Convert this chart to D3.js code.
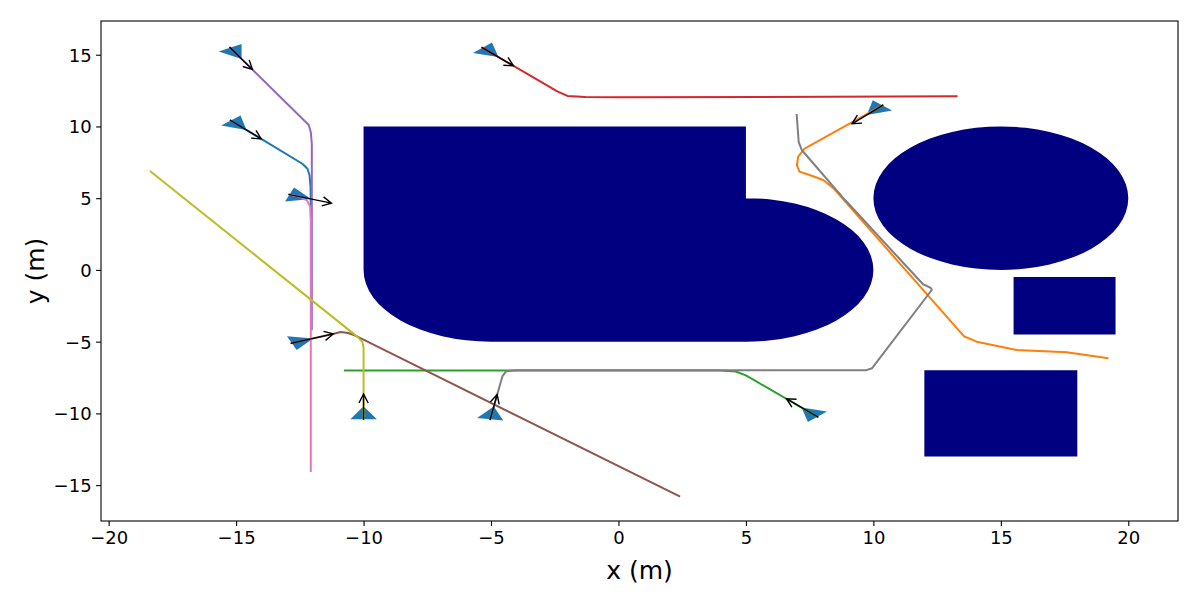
<!DOCTYPE html>
<html>
<head>
<meta charset="utf-8">
<script src="https://cdn.jsdelivr.net/npm/d3@7"></script>
<style>
	html, body { margin: 0; padding: 0; background: #fff; }
	svg { display: block; font-family: 'DejaVu Sans', sans-serif; }
	.tick text { font-size: 18px; fill: #000; font-family: 'DejaVu Sans', sans-serif; }
	.axislabel { font-size: 25px; fill: #000; }
</style>
</head>
<body>
<svg id="chart" width="1200" height="600"></svg>
<script>
// axis limits and ticks
const xLimits = [-20.3, 21.95]
const yLimits = [-17.5, 17.35]
const xTicks = [-20, -15, -10, -5, 0, 5, 10, 15, 20]
const yTicks = [-15, -10, -5, 0, 5, 10, 15]

// obstacles, metres: rects are [x0, x1, y0, y1], discs are [cx, cy, r]
const obstacleRects = [[-10, 5, 0, 10], [-5, 5, -5, 5], [15.5, 19.5, -4.5, -0.5], [12, 18, -13, -7]]
const obstacleDiscs = [[-5, 0, 5], [5, 0, 5], [15, 5, 5]]

// one entry per agent, in tab10 order
const agentColors = ['#1f77b4', '#ff7f0e', '#2ca02c', '#d62728', '#9467bd', '#8c564b', '#e377c2', '#7f7f7f', '#bcbd22']
const startHeadings = [-47, -133, 134, -46, -60, 21.5, -20, 81, 90] // degrees

const trajBlue = [[-15.24, 10.45], [-12.4, 7.4], [-12.2, 7.05], [-12.12, 6.6], [-12.08, 5.8], [-12.06, 3.0]]
const trajOrange = [[10.39, 11.5], [7.3, 8.45], [7.05, 7.9], [7.0, 7.3], [7.1, 6.85], [7.5, 6.62], [8.03, 6.27],
	[8.43, 5.7], [13.55, -4.62], [14.05, -5.0], [15.62, -5.58], [17.58, -5.74], [19.22, -6.16]]
const trajGreen = [[7.84, -10.27], [5.0, -7.35], [4.6, -7.08], [4.0, -7.01], [-10.77, -7.01]]
const trajRed = [[-5.37, 15.52], [-2.4, 12.45], [-2.0, 12.13], [-1.3, 12.05], [0, 12.03], [13.3, 12.1]]
const trajPurple = [[-15.26, 15.53], [-12.35, 10.45], [-12.15, 10.1], [-12.07, 9.6], [-12.03, 8.8], [-12.03, -4.2]]
const trajBrown = [[-12.86, -5.12], [-11.2, -4.47], [-10.9, -4.33], [-10.6, -4.4], [-10.3, -4.6], [2.42, -15.8]]
const trajPink = [[-12.95, 5.27], [-12.5, 5.1], [-12.22, 4.85], [-12.09, 4.4], [-12.07, 3.5], [-12.07, -14.08]]
const trajGray = [[-5.04, -10.46], [-4.55, -7.4], [-4.4, -7.06], [-4.0, -7.0], [9.7, -7.0], [9.95, -6.85],
	[12.29, -1.4], [12.25, -1.25], [11.95, -1.0], [8.89, 4.87], [7.19, 8.36], [7.07, 8.9], [6.99, 10.87]]
const trajOlive = [[-10.0, -10.45], [-10.0, -5.4], [-10.05, -5.0], [-10.25, -4.65], [-18.38, 6.9]]

const trajectories = [trajBlue, trajOrange, trajGreen, trajRed, trajPurple, trajBrown, trajPink, trajGray, trajOlive]

const arrowLength = 1.8   // m
const bodyRadius = 0.6    // m, equilateral triangle
const bodyOffset = 0.35   // m ahead of the start point

const plot = {left: 101, right: 1178, top: 21, bottom: 521}
const svg = d3.select('#chart')

const x = d3.scaleLinear().domain(xLimits).range([plot.left, plot.right])
const y = d3.scaleLinear().domain(yLimits).range([plot.bottom, plot.top])
const fmt = d => (d < 0 ? '\u2212' : '') + Math.abs(d)

svg.append('defs').append('clipPath').attr('id', 'plotclip')
	.append('rect')
	.attr('x', plot.left).attr('y', plot.top)
	.attr('width', plot.right - plot.left).attr('height', plot.bottom - plot.top)

const area = svg.append('g').attr('clip-path', 'url(#plotclip)')

// obstacles as one path so the union has no seams
let obstaclePath = ''
obstacleRects.forEach(([x0, x1, y0, y1]) => {
	obstaclePath += `M${x(x0)},${y(y1)}H${x(x1)}V${y(y0)}H${x(x0)}Z`
})
obstacleDiscs.forEach(([cx, cy, r]) => {
	const rx = x(cx + r) - x(cx), ry = y(cy) - y(cy + r)
	obstaclePath += `M${x(cx) - rx},${y(cy)}A${rx},${ry} 0 1 1 ${x(cx) + rx},${y(cy)}A${rx},${ry} 0 1 1 ${x(cx) - rx},${y(cy)}Z`
})
area.append('path').attr('d', obstaclePath).attr('fill', '#000080')

// agent bodies: triangle in data units with one corner along the heading
const rad = d => d * Math.PI / 180
area.selectAll('polygon.body').data(trajectories).enter()
	.append('polygon')
	.attr('class', 'body')
	.attr('fill', '#1f77b4')
	.attr('points', (t, i) => {
		const h = rad(startHeadings[i])
		const cx = t[0][0] + bodyOffset * Math.cos(h)
		const cy = t[0][1] + bodyOffset * Math.sin(h)
		return [0, 120, 240].map(a => {
			const k = h + rad(a)
			return [x(cx + bodyRadius * Math.cos(k)), y(cy + bodyRadius * Math.sin(k))].join(',')
		}).join(' ')
	})

const line = d3.line().x(d => x(d[0])).y(d => y(d[1]))
area.selectAll('path.traj').data(trajectories).enter()
	.append('path')
	.attr('class', 'traj')
	.attr('d', line)
	.attr('fill', 'none')
	.attr('stroke', (t, i) => agentColors[i])
	.attr('stroke-width', 2)
	.attr('stroke-linejoin', 'round')

// heading arrows, open head
const arrows = area.selectAll('g.arrow').data(trajectories).enter().append('g').attr('class', 'arrow')
arrows.append('path')
	.attr('fill', 'none')
	.attr('stroke', '#000')
	.attr('stroke-width', 1.4)
	.attr('d', (t, i) => {
		const h = rad(startHeadings[i])
		const x0 = x(t[0][0]), y0 = y(t[0][1])
		const x1 = x(t[0][0] + arrowLength * Math.cos(h)), y1 = y(t[0][1] + arrowLength * Math.sin(h))
		const a = Math.atan2(y1 - y0, x1 - x0)
		const hl = 9, hw = 4.6
		const bx = x1 - hl * Math.cos(a), by = y1 - hl * Math.sin(a)
		const px = -Math.sin(a) * hw, py = Math.cos(a) * hw
		return `M${x0},${y0}L${x1},${y1}M${bx + px},${by + py}L${x1},${y1}L${bx - px},${by - py}`
	})

// axes
const xAxis = d3.axisBottom(x).tickValues(xTicks).tickFormat(fmt).tickSize(4.9).tickPadding(4.5)
const yAxis = d3.axisLeft(y).tickValues(yTicks).tickFormat(fmt).tickSize(4.9).tickPadding(4.5)

const gx = svg.append('g').attr('transform', `translate(0,${plot.bottom})`).call(xAxis)
const gy = svg.append('g').attr('transform', `translate(${plot.left},0)`).call(yAxis)
;[gx, gy].forEach(g => {
	g.attr('font-family', 'DejaVu Sans').attr('font-size', 18)
	g.select('.domain').remove()
	g.selectAll('.tick line').attr('stroke', '#000').attr('stroke-width', 1.1)
})
gx.selectAll('.tick text').attr('dy', null).attr('y', 23)
gy.selectAll('.tick text').attr('dy', '0.36em')

svg.append('rect')
	.attr('x', plot.left).attr('y', plot.top)
	.attr('width', plot.right - plot.left).attr('height', plot.bottom - plot.top)
	.attr('fill', 'none').attr('stroke', '#000').attr('stroke-width', 1.1)

svg.append('text').attr('class', 'axislabel')
	.attr('x', (plot.left + plot.right) / 2).attr('y', 579)
	.attr('text-anchor', 'middle')
	.text('x (m)')

svg.append('text').attr('class', 'axislabel')
	.attr('transform', `translate(44,${(plot.top + plot.bottom) / 2}) rotate(-90)`)
	.attr('text-anchor', 'middle')
	.text('y (m)')
</script>
</body>
</html>
